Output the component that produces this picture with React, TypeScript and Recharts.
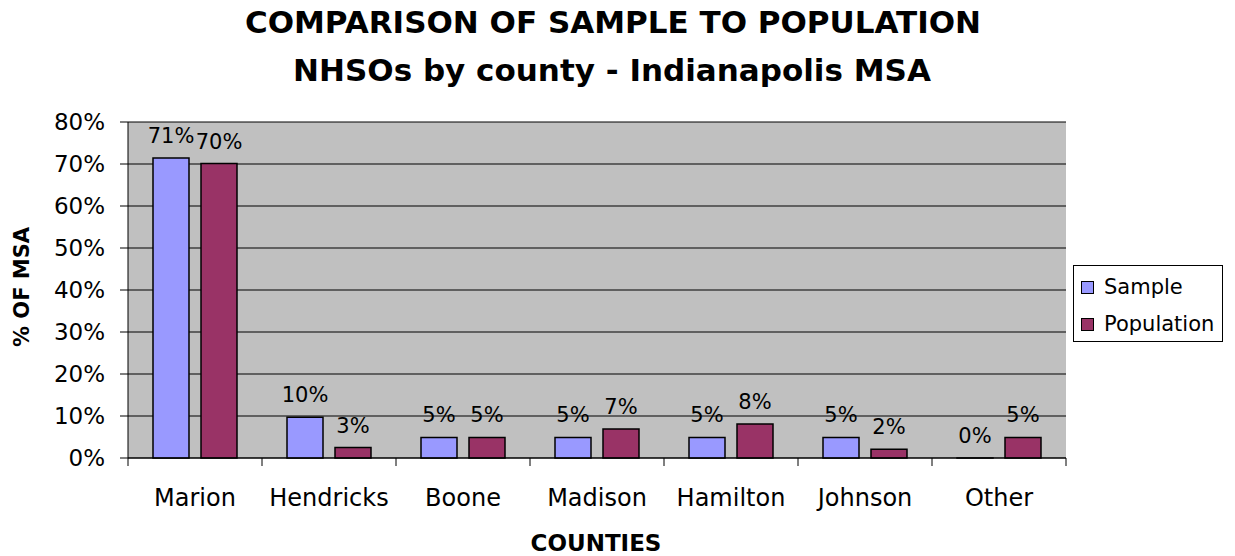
import { BarChart, Bar, XAxis, YAxis, CartesianGrid, LabelList } from 'recharts';

const counties = ['Marion', 'Hendricks', 'Boone', 'Madison', 'Hamilton', 'Johnson', 'Other'];
const sample = [71.4, 9.7, 4.9, 4.9, 4.9, 4.9, 0];
const population = [70.1, 2.5, 4.9, 6.9, 8.1, 2.1, 4.9];
const yTicks = [0, 10, 20, 30, 40, 50, 60, 70, 80];

const data = counties.map((c, i) => ({ county: c, Sample: sample[i], Population: population[i] }));

const FONT = '"DejaVu Sans", "Liberation Sans", Arial, sans-serif';
const W = 1235;
const H = 556;
const PLOT_LEFT = 128;
const PLOT_RIGHT = 1066;
const BAND = (PLOT_RIGHT - PLOT_LEFT) / counties.length;

// eslint-disable-next-line @typescript-eslint/no-explicit-any
function CountyTick({ x, y, payload, index }: any) {
  return (
    <g>
      <line x1={x - BAND / 2} x2={x - BAND / 2} y1={y} y2={y + 8} stroke="#000" />
      {index === counties.length - 1 && (
        <line x1={x + BAND / 2} x2={x + BAND / 2} y1={y} y2={y + 8} stroke="#000" />
      )}
      <text x={x} y={y + 48} textAnchor="middle" fontSize={24} fontFamily={FONT} fill="#000">
        {payload.value}
      </text>
    </g>
  );
}

function LegendBox() {
  const items = [
    { name: 'Sample', color: '#9999FF' },
    { name: 'Population', color: '#993366' },
  ];
  return (
    <div
      style={{
        position: 'absolute', left: 1073, top: 265, width: 148, height: 75,
        border: '1px solid #000', background: '#fff', fontFamily: FONT, fontSize: 21,
      }}
    >
      {items.map((it, i) => (
        <div key={it.name} style={{ position: 'absolute', left: 7, top: 9 + i * 37, display: 'flex', alignItems: 'center' }}>
          <span style={{ width: 11, height: 11, background: it.color, border: '1px solid #000', display: 'inline-block' }} />
          <span style={{ marginLeft: 10, lineHeight: '24px' }}>{it.name}</span>
        </div>
      ))}
    </div>
  );
}

const fmt = (v: unknown) => `${Math.round(Number(v))}%`;

export default function App() {
  return (
    <div style={{ position: 'absolute', left: 0, top: 0, width: W, height: H, background: '#fff', fontFamily: FONT }}>
      <BarChart
        width={W}
        height={H}
        data={data}
        margin={{ top: 122, right: W - PLOT_RIGHT, bottom: 58, left: 48 }}
        barCategoryGap={25}
        barGap={12}
        style={{ position: 'absolute', left: 0, top: 0 }}
      >
        <CartesianGrid vertical={false} fill="#C0C0C0" stroke="#000" strokeOpacity={1} />
        <XAxis
          dataKey="county"
          height={40}
          tickLine={false}
          tickSize={0}
          tickMargin={0}
          axisLine={{ stroke: '#000' }}
          tick={<CountyTick />}
          interval={0}
        />
        <YAxis
          width={80}
          domain={[0, 80]}
          ticks={yTicks}
          tickFormatter={(v) => `${v}%`}
          tickSize={8}
          tickMargin={15}
          axisLine={{ stroke: '#000' }}
          tickLine={{ stroke: '#000' }}
          tick={{ fontSize: 23, fill: '#000', fontFamily: FONT }}
        />
        <YAxis yAxisId="r" orientation="right" width={0} tick={false} axisLine={{ stroke: '#808080', strokeWidth: 2 }} tickLine={false} />
        <Bar dataKey="Sample" fill="#9999FF" stroke="#000" strokeWidth={1.5} minPointSize={0.1} isAnimationActive={false}>
          <LabelList dataKey="Sample" position="top" offset={15} formatter={fmt} fontSize={21} fill="#000" fontFamily={FONT} />
        </Bar>
        <Bar dataKey="Population" fill="#993366" stroke="#000" strokeWidth={1.5} isAnimationActive={false}>
          <LabelList dataKey="Population" position="top" offset={15} formatter={fmt} fontSize={21} fill="#000" fontFamily={FONT} />
        </Bar>
      </BarChart>
      <svg width={W} height={H} style={{ position: 'absolute', left: 0, top: 0, pointerEvents: 'none' }}>
        <text x={613} y={33} textAnchor="middle" fontSize={31} fontWeight="bold" fontFamily={FONT}>
          COMPARISON OF SAMPLE TO POPULATION
        </text>
        <text x={612} y={81} textAnchor="middle" fontSize={31} fontWeight="bold" fontFamily={FONT}>
          NHSOs by county - Indianapolis MSA
        </text>
        <text
          x={0}
          y={0}
          transform="translate(29, 287) rotate(-90)"
          textAnchor="middle"
          fontSize={21}
          fontWeight="bold"
          fontFamily={FONT}
        >
          % OF MSA
        </text>
        <text x={596} y={551} textAnchor="middle" fontSize={23} fontWeight="bold" fontFamily={FONT}>
          COUNTIES
        </text>
      </svg>
      <LegendBox />
    </div>
  );
}
